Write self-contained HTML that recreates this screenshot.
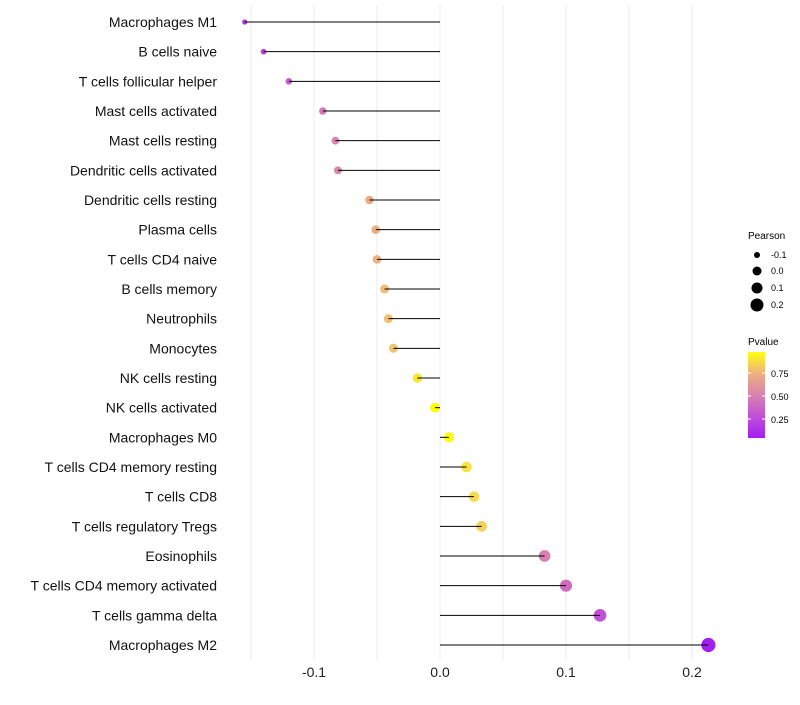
<!DOCTYPE html>
<html><head><meta charset="utf-8"><style>
body{margin:0;background:#fff;font-family:"Liberation Sans",sans-serif}
</style></head><body>
<svg id="c" width="800" height="700" xmlns="http://www.w3.org/2000/svg">
<defs><linearGradient id="pg" x1="0" y1="1" x2="0" y2="0">
<stop offset="0" stop-color="#A020F0"/><stop offset="0.25" stop-color="#C050D8"/><stop offset="0.49" stop-color="#D880B0"/><stop offset="0.75" stop-color="#EDB080"/><stop offset="1" stop-color="#FFFF10"/>
</linearGradient></defs>
<g id="grid"></g><g id="pts"></g><g id="marks"></g><g id="labels"></g>
<g font-size="9" fill="#000">
<text x="748" y="239" font-size="10">Pearson</text>
<circle cx="757" cy="255" r="3"/><text x="771" y="258">-0.1</text>
<circle cx="757" cy="271" r="4.5"/><text x="771" y="274">0.0</text>
<circle cx="757" cy="288" r="5.5"/><text x="771" y="291">0.1</text>
<circle cx="757" cy="305" r="6.5"/><text x="771" y="308">0.2</text>
</g>
<g font-size="9" fill="#000">
<text x="748" y="345" font-size="10">Pvalue</text>
<rect x="748" y="352" width="17" height="86" fill="url(#pg)"/>
<line x1="748" x2="751" y1="373" y2="373" stroke="#fff"/><line x1="762" x2="765" y1="373" y2="373" stroke="#fff"/>
<line x1="748" x2="751" y1="396" y2="396" stroke="#fff"/><line x1="762" x2="765" y1="396" y2="396" stroke="#fff"/>
<line x1="748" x2="751" y1="419" y2="419" stroke="#fff"/><line x1="762" x2="765" y1="419" y2="419" stroke="#fff"/>
<text x="771" y="377">0.75</text><text x="771" y="400">0.50</text><text x="771" y="423">0.25</text>
</g>
</svg>
<script>
const categories=["Macrophages M1","B cells naive","T cells follicular helper","Mast cells activated","Mast cells resting","Dendritic cells activated","Dendritic cells resting","Plasma cells","T cells CD4 naive","B cells memory","Neutrophils","Monocytes","NK cells resting","NK cells activated","Macrophages M0","T cells CD4 memory resting","T cells CD8","T cells regulatory  Tregs ","Eosinophils","T cells CD4 memory activated","T cells gamma delta","Macrophages M2"];
const pearson=[-0.155,-0.140,-0.120,-0.093,-0.083,-0.081,-0.056,-0.051,-0.050,-0.044,-0.041,-0.037,-0.018,-0.004,0.007,0.021,0.027,0.033,0.083,0.100,0.127,0.213];
const pvalue=[0.2,0.25,0.35,0.47,0.52,0.52,0.68,0.7,0.7,0.74,0.76,0.78,0.9,0.97,0.96,0.88,0.86,0.82,0.5,0.42,0.3,0.08];
const ticks=[-0.1,0.0,0.1,0.2];
const tickLabels=["-0.1","0.0","0.1","0.2"];
const minorTicks=[-0.15,-0.05,0.05,0.15];
const NS="http://www.w3.org/2000/svg";
const x=v=>440+v*1260;
const y=i=>22+i*(623/(categories.length-1));
function mk(tag,attrs,parent){const e=document.createElementNS(NS,tag);for(const k in attrs)e.setAttribute(k,attrs[k]);document.getElementById(parent).appendChild(e);return e;}
function lerp(a,b,t){return a.map((v,i)=>Math.round(v+(b[i]-v)*t));}
const cstops=[[0.1,[160,32,240]],[0.3,[192,80,216]],[0.5,[216,128,176]],[0.7,[237,176,128]],[0.85,[245,216,88]],[0.97,[255,255,0]]];
function color(p){if(p<=cstops[0][0])return `rgb(${cstops[0][1]})`;for(let k=1;k<cstops.length;k++){if(p<=cstops[k][0]){const t=(p-cstops[k-1][0])/(cstops[k][0]-cstops[k-1][0]);return `rgb(${lerp(cstops[k-1][1],cstops[k][1],t)})`;}}return 'rgb(255,255,0)';}
function rad(v){return Math.sqrt(Math.max(2.5,25+118*v));}
minorTicks.concat(ticks).forEach(t=>{const l=mk('line',{x1:x(t),x2:x(t),y1:5,y2:660,stroke:'#ebebeb','stroke-width':1},'grid');

});
ticks.forEach((t,i)=>{const e=mk('text',{x:x(t),y:677,'text-anchor':'middle','font-size':14,fill:'#222'},'labels');e.textContent=tickLabels[i];

});
categories.forEach((c,i)=>{
const t=mk('text',{x:217,y:y(i)+5,'text-anchor':'end','font-size':14,fill:'#111'},'labels');t.textContent=c;


const p=mk('circle',{cx:x(pearson[i]),cy:y(i),r:rad(pearson[i]),fill:color(pvalue[i])},'pts');


const l=mk('line',{x1:x(0),x2:x(pearson[i]),y1:y(i),y2:y(i),stroke:'#000','stroke-width':1},'marks');


});
</script>
</body></html>
